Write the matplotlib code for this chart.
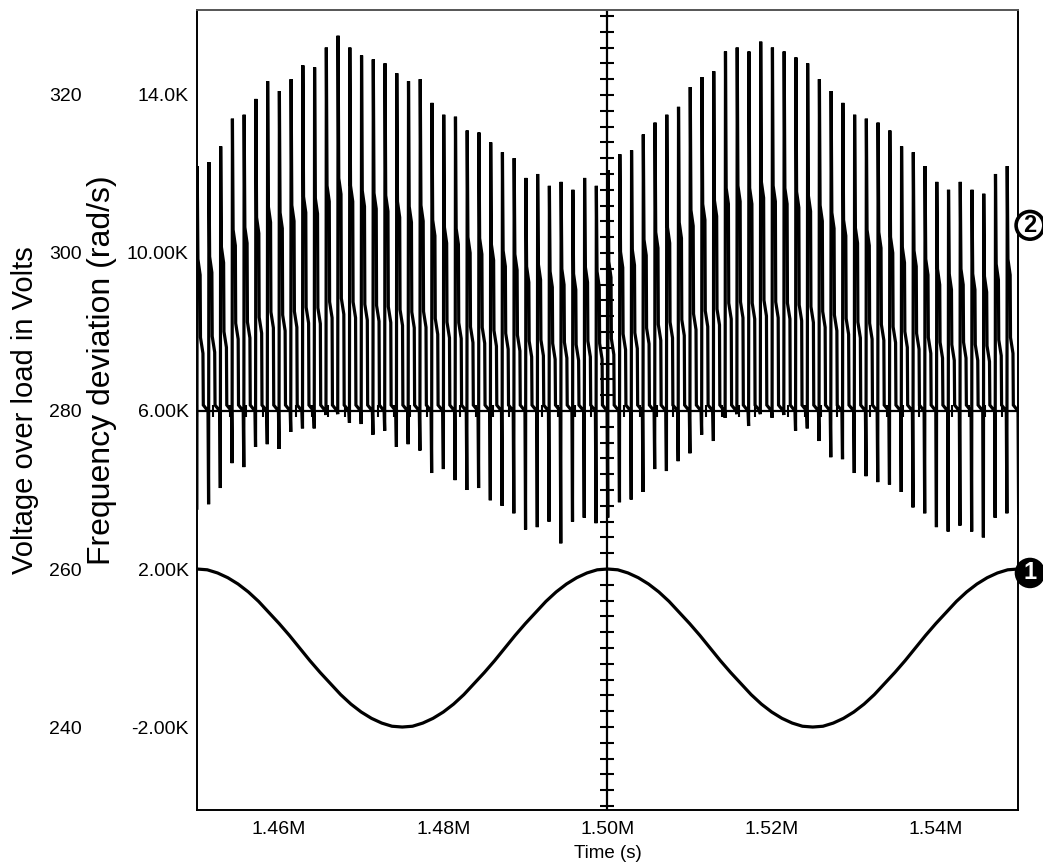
import numpy as np
import matplotlib
matplotlib.use('Agg')
import matplotlib.pyplot as plt
import matplotlib.transforms as mtransforms

plt.rcParams['font.family'] = ['Liberation Sans', 'DejaVu Sans']

# Ejes (tiempo en M, frecuencia en K rad/s, tension en V)
x_ticks = [1.46, 1.48, 1.50, 1.52, 1.54]
x_tick_labels = ['1.46M', '1.48M', '1.50M', '1.52M', '1.54M']
freq_ticks = [14.0, 10.0, 6.0, 2.0, -2.0]
freq_tick_labels = ['14.0K', '10.00K', '6.00K', '2.00K', '-2.00K']
volt_ticks = [320, 300, 280, 260, 240]

# Desviacion de frecuencia: pico y valle de cada pulso (K rad/s)
pulse_peaks = [12.2, 12.3, 12.7, 13.4, 13.5, 13.9, 14.35, 14.1, 14.4, 14.75,
               14.7, 15.2, 15.5, 15.2, 15.0, 14.9, 14.8, 14.55, 14.35, 14.4,
               13.8, 13.5, 13.45, 13.1, 13.05, 12.8, 12.55, 12.4, 11.9, 12.0,
               11.7, 11.8, 11.6, 11.9, 11.7, 12.1, 12.5, 12.6, 13.0, 13.3,
               13.5, 13.7, 14.2, 14.45, 14.6, 15.1, 15.2, 15.1, 15.35, 15.2,
               15.1, 14.95, 14.8, 14.4, 14.1, 13.8, 13.5, 13.4, 13.3, 13.1,
               12.7, 12.55, 12.2, 11.8, 11.6, 11.8, 11.6, 11.5, 12.0, 12.2,
               12.1]
pulse_troughs = [3.54, 3.64, 4.05, 4.68, 4.58, 5.09, 5.16, 5.04, 5.47, 5.56,
                 5.56, 5.9, 5.92, 5.7, 5.67, 5.4, 5.5, 5.09, 5.16, 5.0,
                 4.43, 4.53, 4.25, 4.0, 4.05, 3.74, 3.6, 3.41, 3.0, 3.06,
                 3.2, 2.65, 3.2, 3.3, 3.16, 3.3, 3.69, 3.76, 3.95, 4.53,
                 4.48, 4.73, 4.93, 5.4, 5.24, 5.83, 5.92, 5.62, 5.92, 5.83,
                 5.9, 5.5, 5.56, 5.24, 4.83, 4.78, 4.43, 4.35, 4.2, 4.14,
                 3.95, 3.56, 3.41, 3.06, 2.95, 3.1, 2.95, 2.8, 3.3, 3.41,
                 3.38]
pulse_period = 0.00143

# Tension sobre la carga, leida cada 0.00125M
volt_t = np.linspace(1.45, 1.55, 81)
volt_vals = [260, 259.9, 259.5, 258.9, 258.1, 257.1, 255.9, 254.5, 253.1, 251.6,
             250, 248.4, 246.9, 245.5, 244.1, 242.9, 241.9, 241.1, 240.5, 240.1,
             240, 240.1, 240.5, 241.1, 241.9, 242.9, 244.1, 245.5, 246.9, 248.4,
             250, 251.6, 253.1, 254.5, 255.9, 257.1, 258.1, 258.9, 259.5, 259.9,
             260, 259.9, 259.5, 258.9, 258.1, 257.1, 255.9, 254.5, 253.1, 251.6,
             250, 248.4, 246.9, 245.5, 244.1, 242.9, 241.9, 241.1, 240.5, 240.1,
             240, 240.1, 240.5, 241.1, 241.9, 242.9, 244.1, 245.5, 246.9, 248.4,
             250, 251.6, 253.1, 254.5, 255.9, 257.1, 258.1, 258.9, 259.5, 259.9,
             260]


def v2f(v):
    return (np.asarray(v) - 250.0) / 5.0


def f2v(f):
    return np.asarray(f) * 5.0 + 250.0


# Forma de cada pulso (fraccion del periodo)
frac = [0.0, 0.03, 0.09, 0.28, 0.31, 0.52, 0.55, 0.95]
px, py = [], []
start = 1.45 - 0.015 * pulse_period
for i, (p, tr) in enumerate(zip(pulse_peaks, pulse_troughs)):
    base = start + i * pulse_period
    s = 6 + 0.62 * (p - 6)
    m = 6 + 0.3 * (p - 6)
    px += [base + f * pulse_period for f in frac]
    py += [tr, p, s, s - 0.4, m, m - 0.4, 6.15, 6.0]

fig = plt.figure(figsize=(10.43, 8.65), dpi=100)
ax = fig.add_axes([0.1889, 0.0636, 0.7871, 0.9248])

ax.plot(px, py, color='black', linewidth=2.3, solid_joinstyle='miter')
ax.plot(volt_t, v2f(volt_vals), color='black', linewidth=2.3)

# Reticula central con marcas
ax.axhline(6.0, color='black', linewidth=1.6)
ax.axvline(1.50, color='black', linewidth=1.6)
hx = np.arange(1.45, 1.5501, 0.002)
ax.plot(hx, np.full(len(hx), 6.0), ls='none', marker='|', ms=9, mew=1.5, color='black')
vy = np.arange(-4.0, 16.01, 0.4)
ax.plot(np.full(len(vy), 1.50), vy, ls='none', marker='_', ms=10, mew=1.5, color='black')

ax.set_xlim(1.45, 1.55)
ax.set_ylim(-4.1, 16.15)
ax.set_xticks(x_ticks)
ax.set_xticklabels(x_tick_labels)
ax.set_yticks(freq_ticks)
ax.set_yticklabels(freq_tick_labels)
ax.tick_params(axis='both', length=0, labelsize=14)
ax.tick_params(axis='y', pad=6)
ax.tick_params(axis='x', pad=8)
for sp in ax.spines.values():
    sp.set_linewidth(1.4)
ax.spines['top'].set_color('#555555')

ax.set_xlabel('Time (s)', fontsize=13.5, labelpad=5)
ax.set_ylabel('Frequency deviation (rad/s)', fontsize=23)
ax.yaxis.set_label_coords(-0.097, 0.55)

ax2 = ax.secondary_yaxis(-0.14, functions=(f2v, v2f))
ax2.set_yticks(volt_ticks)
ax2.tick_params(axis='y', length=0, labelsize=14, pad=0)
ax2.spines['left'].set_visible(False)
ax2.set_ylabel('Voltage over load in Volts', fontsize=21)
ax2.yaxis.set_label_coords(-0.192, 0.5, transform=ax.transAxes)

# Marcadores de canal
tr_b = mtransforms.blended_transform_factory(ax.transAxes, ax.transData)
ax.text(1.0146, 10.7, '2', transform=tr_b, ha='center', va='center',
        fontsize=17, fontweight='bold', color='black', clip_on=False,
        bbox=dict(boxstyle='circle,pad=0.1', fc='white', ec='black', lw=2.6))
ax.text(1.0146, 1.9, '1', transform=tr_b, ha='center', va='center',
        fontsize=17, fontweight='bold', color='white', clip_on=False,
        bbox=dict(boxstyle='circle,pad=0.1', fc='black', ec='black', lw=2))

fig.savefig('out.png', dpi=100)
